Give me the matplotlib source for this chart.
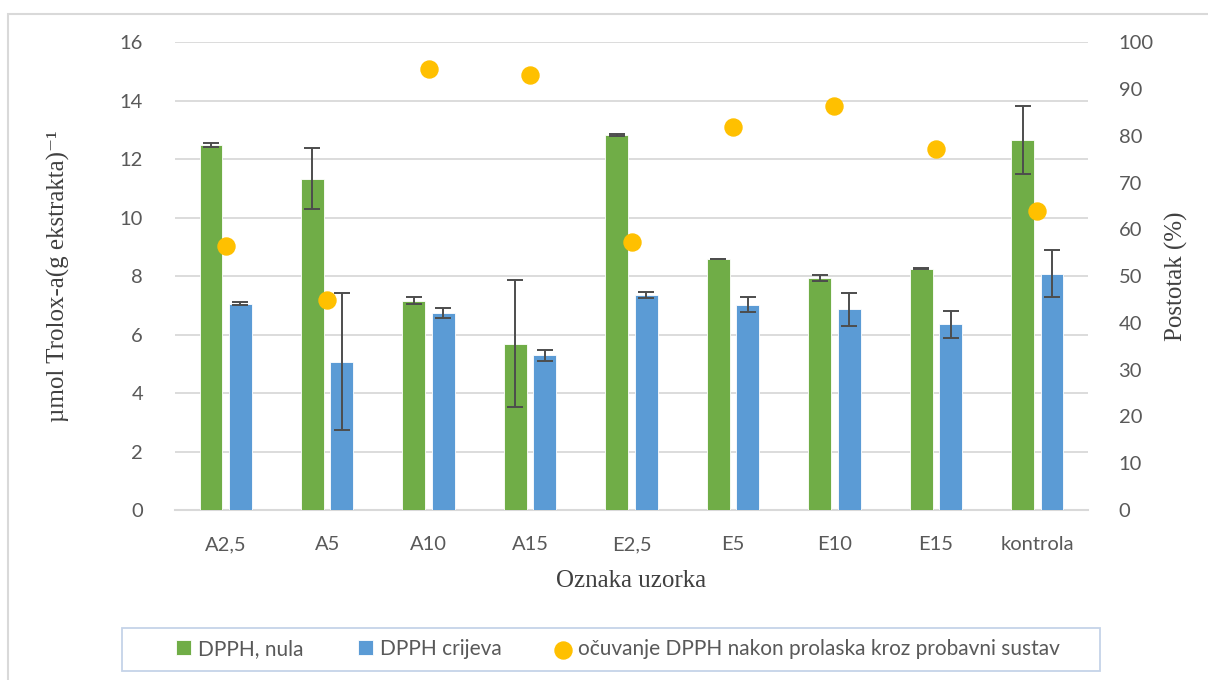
import matplotlib
matplotlib.use('Agg')
import matplotlib.pyplot as plt
import numpy as np
from matplotlib.patches import Rectangle

# data
samples = ['A2,5', 'A5', 'A10', 'A15', 'E2,5', 'E5', 'E10', 'E15', 'kontrola']
dpph_nula = [12.48, 11.34, 7.16, 5.69, 12.83, 8.58, 7.94, 8.25, 12.65]
dpph_nula_err = [0.07, 1.04, 0.12, 2.17, 0.05, 0.01, 0.10, 0.02, 1.16]
dpph_crijeva = [7.06, 5.08, 6.74, 5.29, 7.35, 7.03, 6.87, 6.35, 8.09]
dpph_crijeva_err = [0.05, 2.34, 0.16, 0.19, 0.10, 0.26, 0.56, 0.45, 0.82]
ocuvanje = [56.5, 44.8, 94.2, 93.1, 57.2, 81.9, 86.4, 77.1, 63.9]

green = '#70AD47'
blue = '#5B9BD5'
yellow = '#FFC000'
tick_col = '#595959'
grid_col = '#D9D9D9'

plt.rcParams['font.family'] = ['Lato', 'DejaVu Sans']

fig = plt.figure(figsize=(12.08, 6.8), dpi=100)
ax = fig.add_axes([175/1208, 1-510/680, (1088-175)/1208, (510-42.3)/680])
ax2 = ax.twinx()

x = np.arange(len(samples))
w = 0.225
ax.bar(x - 0.145, dpph_nula, w, color=green, edgecolor='white', linewidth=0.6,
       label='DPPH, nula', zorder=3)
ax.bar(x + 0.145, dpph_crijeva, w, color=blue, edgecolor='white', linewidth=0.6,
       label='DPPH crijeva', zorder=3)
ax.errorbar(x - 0.145, dpph_nula, yerr=dpph_nula_err, fmt='none', ecolor='#4D4D4D',
            elinewidth=1.4, capsize=6, capthick=1.4, zorder=4)
ax.errorbar(x + 0.145, dpph_crijeva, yerr=dpph_crijeva_err, fmt='none', ecolor='#4D4D4D',
            elinewidth=1.4, capsize=6, capthick=1.4, zorder=4)
ax2.scatter(x, ocuvanje, s=150, color=yellow, zorder=5,
            label='očuvanje DPPH nakon prolaska kroz probavni sustav')

ax.set_xlim(-0.5, len(samples) - 0.5)
ax.set_ylim(0, 16)
ax.set_yticks(range(0, 17, 2))
ax2.set_ylim(0, 100)
ax2.set_yticks(range(0, 101, 10))
ax.set_xticks(x)
ax.set_xticklabels(samples)

ax.grid(axis='y', color=grid_col, linewidth=1.3, zorder=0)
ax.set_axisbelow(True)
for a in (ax, ax2):
    for s in a.spines.values():
        s.set_visible(False)
    a.tick_params(length=0, labelsize=14.5, colors=tick_col)
ax.spines['bottom'].set_visible(True)
ax.spines['bottom'].set_color(grid_col)
ax.spines['bottom'].set_linewidth(1.5)
ax.tick_params(axis='x', pad=19)
ax.tick_params(axis='y', pad=23)
ax2.tick_params(axis='y', pad=22)

serif = ['Liberation Serif', 'DejaVu Serif']
ax.set_ylabel('µmol Trolox-a(g ekstrakta)⁻¹', family=serif, fontsize=18,
              color='#404040', labelpad=36)
ax2.set_ylabel('Postotak (%)', family=serif, fontsize=18, color='#404040', labelpad=8)
ax.set_xlabel('Oznaka uzorka', family=serif, fontsize=18, color='#404040', labelpad=12)

h1, l1 = ax.get_legend_handles_labels()
h2, l2 = ax2.get_legend_handles_labels()
leg = fig.legend(h1 + h2, l1 + l2, loc='center', ncol=3,
                 bbox_to_anchor=(618/1208, 1-649/680), fontsize=15,
                 frameon=False, handlelength=0.7, handleheight=0.7,
                 handletextpad=0.35, columnspacing=2.6)
for t in leg.get_texts():
    t.set_color(tick_col)

# legend frame (wider than the entries)
fig.patches.append(Rectangle((122/1208, 1-671/680), (1100-122)/1208, 43/680,
                             transform=fig.transFigure, fill=False,
                             edgecolor='#C5D3E8', linewidth=1.3))

# outer chart border
fig.patches.append(Rectangle((8/1208, -0.05), 1.1, 1-14/680 + 0.05, transform=fig.transFigure,
                             fill=False, edgecolor='#D9D9D9', linewidth=1.5))

fig.savefig('out.png', dpi=100)
